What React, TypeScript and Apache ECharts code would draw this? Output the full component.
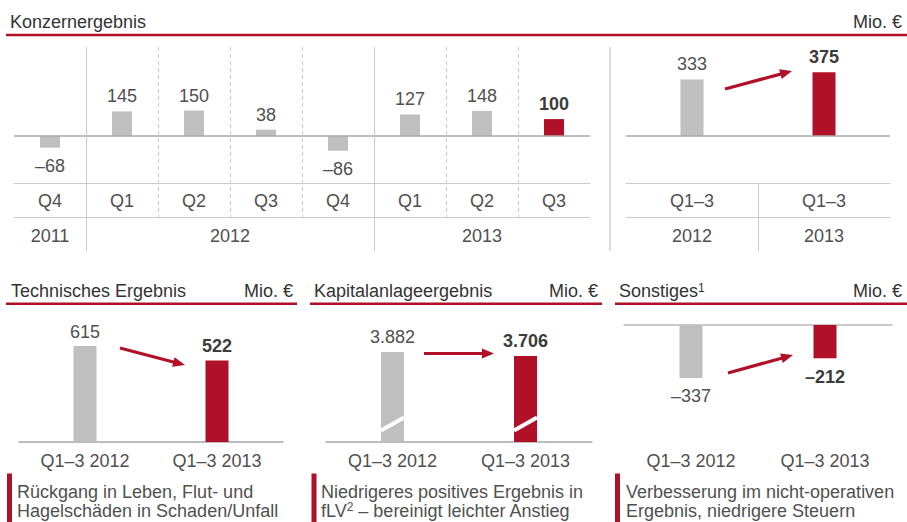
import React, { useEffect, useRef } from "react";
import * as echarts from "echarts";

// ---------- data ----------
const topCategories = ["Q4", "Q1", "Q2", "Q3", "Q4", "Q1", "Q2", "Q3"];
const topValues = [-68, 145, 150, 38, -86, 127, 148, 100];
const topYears = [
  { label: "2011", span: 1 },
  { label: "2012", span: 4 },
  { label: "2013", span: 3 },
];
const sumCategories = ["Q1–3", "Q1–3"];
const sumYears = ["2012", "2013"];
const sumValues = [333, 375];
const panelCategories = ["Q1–3 2012", "Q1–3 2013"];
const techValues = [615, 522];
const capValues = [3882, 3706];
const otherValues = [-337, -212];

const panelTitles = ["Technisches Ergebnis", "Kapitalanlageergebnis", "Sonstiges{sup|1}"];
const panelComments = [
  "Rückgang in Leben, Flut- und\nHagelschäden in Schaden/Unfall",
  "Niedrigeres positives Ergebnis in\nfLV{sup|2} – bereinigt leichter Anstieg",
  "Verbesserung im nicht-operativen\nErgebnis, niedrigere Steuern",
];
const mainTitle = "Konzernergebnis";
const unitLabel = "Mio. €";

// ---------- styles / layout ----------
const FONT = "'Liberation Sans', Arial, Helvetica, sans-serif";
const TXT = "#505050";
const BOLD = "#3c3c3c";
const TITLE = "#333333";
const GRAY = "#bfbfbf";
const RED = "#b01129";
const BASE = "#a8a8a8";
const RULE = "#cacaca";

const G0 = { left: 14, top: 47, width: 576, height: 136 };
const G1 = { left: 626, top: 47, width: 264, height: 136 };
const G2 = { left: 19, top: 322, width: 264, height: 120 };
const G3 = { left: 326, top: 322, width: 266, height: 120 };
const G4 = { left: 624, top: 325, width: 268, height: 117 };

const panelLayout = [
  { x0: 6, x1: 297, tx: 11, mx: 293, bx: 7, cx: 17 },
  { x0: 310, x1: 602, tx: 314, mx: 598, bx: 311.5, cx: 321 },
  { x0: 615, x1: 907, tx: 619, mx: 902, bx: 615, cx: 626 },
];

const arrowsLayout = [
  [725, 89, 792, 71],
  [120, 348, 185, 365],
  [424, 353.5, 494, 353.5],
  [728, 373, 793, 355],
];

const fmt = (v: number) =>
  (v < 0 ? "–" : "") + String(Math.abs(v)).replace(/\B(?=(\d{3})+(?!\d))/g, ".");

function items(values: number[], posDist: number, negDist: number) {
  return values.map((v, i) => {
    const last = i === values.length - 1;
    return {
      value: v,
      itemStyle: { color: last ? RED : GRAY },
      label: {
        position: v < 0 ? "bottom" : "top",
        distance: v < 0 ? negDist : posDist,
        fontWeight: last ? "bold" : "normal",
        color: last ? BOLD : TXT,
      },
    };
  });
}

const seriesLabel = {
  show: true,
  fontSize: 18,
  fontFamily: FONT,
  formatter: (p: any) => fmt(p.value),
};

const zeroLine = {
  silent: true,
  symbol: ["none", "none"],
  label: { show: false },
  lineStyle: { color: BASE, width: 1.5, type: "solid" },
  data: [{ yAxis: 0 }],
};

function line(x1: number, y1: number, x2: number, y2: number, stroke: string, lineWidth: number, dash?: number[]) {
  return {
    type: "line",
    z: 100,
    silent: true,
    shape: { x1, y1, x2, y2 },
    style: { stroke, lineWidth, lineDash: dash || null },
  };
}

function text(x: number, y: number, str: string, extra: any = {}) {
  return {
    type: "text",
    z: 100,
    silent: true,
    x,
    y,
    style: {
      text: str,
      fill: TXT,
      fontSize: 18,
      fontFamily: FONT,
      align: "left",
      verticalAlign: "middle",
      ...extra,
    },
  };
}

function supRich(fill: string) {
  return {
    sup: { fontSize: 12, fontFamily: FONT, fill, verticalAlign: "top" },
  };
}

function arrow(x1: number, y1: number, x2: number, y2: number) {
  const dx = x2 - x1;
  const dy = y2 - y1;
  const len = Math.sqrt(dx * dx + dy * dy);
  const ux = dx / len;
  const uy = dy / len;
  const nx = -uy;
  const ny = ux;
  const L = 12;
  const Wd = 5;
  const bx = x2 - ux * L;
  const by = y2 - uy * L;
  return [
    line(x1, y1, x2 - ux * L * 0.6, y2 - uy * L * 0.6, RED, 3.2),
    {
      type: "polygon",
      z: 100,
      silent: true,
      shape: {
        points: [
          [x2, y2],
          [bx + nx * Wd, by + ny * Wd],
          [bx - nx * Wd, by - ny * Wd],
        ],
      },
      style: { fill: RED },
    },
  ];
}

function buildGraphics() {
  const g: any[] = [];
  // top title
  g.push(text(10, 21.5, mainTitle, { fill: TITLE }));
  g.push(text(902, 21.5, unitLabel, { fill: TITLE, align: "right" }));
  g.push(line(6, 35, 907, 35, RED, 2.5));

  // top-left grid decorations
  const n = topCategories.length;
  const colW = G0.width / n;
  const yearBounds: number[] = [];
  let acc = 0;
  topYears.forEach((y) => {
    const startX = G0.left + acc * colW;
    acc += y.span;
    const endX = G0.left + acc * colW;
    if (acc < n) yearBounds.push(acc);
    g.push(text((startX + endX) / 2, 236, y.label, { align: "center" }));
  });
  for (let i = 1; i < n; i++) {
    const x = Math.round(G0.left + i * colW) + 0.5;
    if (yearBounds.includes(i)) g.push(line(x, 47, x, 251, RULE, 1));
    else g.push(line(x, 47, x, 217, RULE, 1, [4, 3]));
  }
  g.push(line(G0.left, 217.5, G0.left + G0.width, 217.5, RULE, 1));

  // separator between top charts
  g.push(line(610, 47, 610, 251, "#dcdcdc", 2));
  // top-right column separator in label rows
  const midX = Math.round(G1.left + G1.width / 2) + 0.5;
  g.push(line(midX, 183, midX, 251, RULE, 1));

  // bottom panels
  panelLayout.forEach((p, i) => {
    g.push(text(p.tx, 290.8, panelTitles[i], { fill: TITLE, rich: supRich(TITLE) }));
    g.push(text(p.mx, 290.8, unitLabel, { fill: TITLE, align: "right" }));
    g.push(line(p.x0, 303.7, p.x1, 303.7, RED, 2.5));
    g.push({
      type: "rect",
      z: 100,
      silent: true,
      shape: { x: p.bx, y: 473.5, width: 5, height: 49 },
      style: { fill: RED },
    });
    g.push(text(p.cx, 501.3, panelComments[i], { lineHeight: 19, rich: supRich(TXT) }));
  });

  // axis-break marks on Kapitalanlage bars
  const base3 = G3.top + G3.height;
  capValues.forEach((_, i) => {
    const cx = G3.left + ((i + 0.5) * G3.width) / capValues.length;
    const cy = base3 - 18;
    g.push(line(cx - 11.5, cy + 6.5, cx + 11.5, cy - 6.5, "#ffffff", 4));
  });

  // arrows
  arrowsLayout.forEach((a) => g.push(...arrow(a[0], a[1], a[2], a[3])));
  return g;
}

function catAxis(gridIndex: number, data: string[], extra: any = {}) {
  return {
    type: "category",
    gridIndex,
    data,
    position: "bottom",
    axisLine: { show: true, onZero: false, lineStyle: { color: RULE, width: 1 } },
    axisTick: { show: false },
    splitLine: { show: false },
    axisLabel: { show: true, margin: 9, fontSize: 18, fontFamily: FONT, color: TXT },
    ...extra,
  };
}

function valAxis(gridIndex: number, min: number, max: number) {
  return { type: "value", gridIndex, min, max, show: false, splitLine: { show: false } };
}

export default function App() {
  const ref = useRef<HTMLDivElement>(null);
  useEffect(() => {
    document.body.style.margin = "0";
    if (!ref.current) return;
    const chart = echarts.init(ref.current, undefined, { renderer: "svg" });
    const option: any = {
      animation: false,
      backgroundColor: "#ffffff",
      textStyle: { fontFamily: FONT },
      grid: [G0, G1, G2, G3, G4].map((g) => ({ ...g, containLabel: false })),
      xAxis: [
        catAxis(0, topCategories),
        catAxis(1, sumCategories),
        catAxis(1, sumYears, {
          offset: 34,
          axisLabel: { show: true, margin: 10, fontSize: 18, fontFamily: FONT, color: TXT },
        }),
        catAxis(2, panelCategories, {
          axisLine: { show: true, onZero: false, lineStyle: { color: BASE, width: 1.5 } },
          axisLabel: { show: true, margin: 10, fontSize: 18, fontFamily: FONT, color: TXT },
        }),
        catAxis(3, panelCategories, {
          axisLine: { show: true, onZero: false, lineStyle: { color: BASE, width: 1.5 } },
          axisLabel: { show: true, margin: 10, fontSize: 18, fontFamily: FONT, color: TXT },
        }),
        catAxis(4, panelCategories, {
          position: "top",
          axisLine: { show: true, onZero: false, lineStyle: { color: "#b8b8b8", width: 1.5 } },
          axisLabel: { show: false },
        }),
        catAxis(4, panelCategories, {
          axisLine: { show: false },
          axisLabel: { show: true, margin: 10, fontSize: 18, fontFamily: FONT, color: TXT },
        }),
      ],
      yAxis: [
        valAxis(0, -276, 524),
        valAxis(1, -276, 524),
        valAxis(2, 0, 768),
        valAxis(3, 0, 5176),
        valAxis(4, -745, 0),
      ],
      series: [
        {
          type: "bar",
          xAxisIndex: 0,
          yAxisIndex: 0,
          barWidth: 20,
          label: seriesLabel,
          data: items(topValues, 6, 9.5),
          markLine: zeroLine,
        },
        {
          type: "bar",
          xAxisIndex: 1,
          yAxisIndex: 1,
          barWidth: 23,
          label: seriesLabel,
          data: items(sumValues, 6.5, 9.5),
          markLine: zeroLine,
        },
        {
          type: "bar",
          xAxisIndex: 3,
          yAxisIndex: 2,
          barWidth: 23,
          label: seriesLabel,
          data: items(techValues, 5, 9.5),
        },
        {
          type: "bar",
          xAxisIndex: 4,
          yAxisIndex: 3,
          barWidth: 23,
          label: seriesLabel,
          data: items(capValues, 6.5, 9.5),
        },
        {
          type: "bar",
          xAxisIndex: 6,
          yAxisIndex: 4,
          barWidth: 23,
          label: seriesLabel,
          data: items(otherValues, 6, 9.5),
        },
      ],
      graphic: buildGraphics(),
    };
    chart.setOption(option);
    return () => chart.dispose();
  }, []);
  return (
    <div
      ref={ref}
      style={{ position: "absolute", left: 0, top: 0, width: 907, height: 522, background: "#fff" }}
    />
  );
}
